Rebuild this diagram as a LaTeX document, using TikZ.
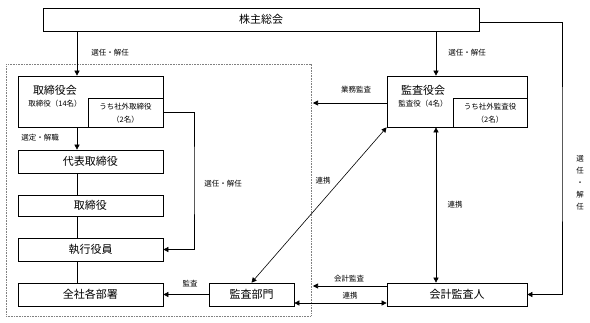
\documentclass[tikz,border=0pt]{standalone}
\usepackage{fontspec}
\setmainfont{Noto Sans CJK JP}
\usetikzlibrary{arrows.meta,calc}
\begin{document}
\begin{tikzpicture}[x=1pt,y=-1pt,
  box/.style={draw, line width=0.7pt, inner sep=0pt, font=\fontsize{11}{13}\selectfont},
  title/.style={inner sep=0pt, font=\fontsize{11}{13}\selectfont},
  sub/.style={inner sep=0pt, font=\fontsize{7.5}{9}\selectfont},
  lbl/.style={inner sep=0pt, font=\fontsize{7.5}{9}\selectfont},
  arr/.style={-{Triangle[length=5pt,width=5pt]}, line width=0.6pt},
  darr/.style={{Triangle[length=5pt,width=5pt]}-{Triangle[length=5pt,width=5pt]}, line width=0.6pt},
  ln/.style={line width=0.6pt}]
\useasboundingbox (0,0) rectangle (590,322);
% dotted area
\node[draw=gray, line width=0.6pt, dash pattern=on 0.8pt off 0.8pt, minimum width=305pt, minimum height=252pt, inner sep=0pt] (area) at (158.5,190) {};
% boxes
\node[box, minimum width=436pt, minimum height=23pt] (soukai) at (261,19.5) {株主総会};
\node[box, minimum width=145pt, minimum height=51pt] (torikai) at (90.5,101.5) {};
\node[box, minimum width=75pt, minimum height=29pt] (torishagai) at (125.5,112.5) {};
\node[title] (toritit) at (55,90) {取締役会};
\node[sub] (torisub) at (55,104) {取締役（14名）};
\node[sub] (torisha1) at (125.5,106.5) {うち社外取締役};
\node[sub] (torisha2) at (125.5,120) {（2名）};
\node[box, minimum width=145pt, minimum height=23pt] (daihyo) at (90.5,161.5) {代表取締役};
\node[box, minimum width=145pt, minimum height=21pt] (torishimari) at (90.5,205.5) {取締役};
\node[box, minimum width=145pt, minimum height=23pt] (shikko) at (90.5,249.5) {執行役員};
\node[box, minimum width=145pt, minimum height=23pt] (zensha) at (90.5,294.5) {全社各部署};
\node[box, minimum width=85pt, minimum height=23pt] (kansabumon) at (251.5,294.5) {監査部門};
\node[box, minimum width=140pt, minimum height=23pt] (kaikei) at (457,294.5) {会計監査人};
\node[box, minimum width=140pt, minimum height=51pt] (kansakai) at (457,101.5) {};
\node[box, minimum width=74pt, minimum height=29pt] (kansashagai) at (490,112.5) {};
\node[title] (kansatit) at (423,90) {監査役会};
\node[sub] (kansasub) at (423,104) {監査役（4名）};
\node[sub] (kansasha1) at (490,106.5) {うち社外監査役};
\node[sub] (kansasha2) at (490,120) {（2名）};
% helper coordinates
\coordinate (cl) at (77,0);
\coordinate (cm) at (436,0);
\coordinate (cr) at (194,180);
\coordinate (cfar) at (562,150);
\coordinate (gyomu) at (313,103);
\coordinate (kaikeiend) at (313,286);
% connectors
\draw[arr] (soukai.south -| cl) -- (torikai.north -| cl);
\draw[arr] (torikai.south -| cl) -- (daihyo.north -| cl);
\draw[ln] (daihyo.south -| cl) -- (torishimari.north -| cl);
\draw[ln] (torishimari.south -| cl) -- (shikko.north -| cl);
\draw[ln] (shikko.south -| cl) -- (zensha.north -| cl);
\draw[arr] (torishagai.east) -| (cr) |- (shikko.east);
\draw[arr] (soukai.south -| cm) -- (kansakai.north -| cm);
\draw[arr] ([yshift=-2.5pt]soukai.east) -| (cfar) |- (kaikei.east);
\draw[arr] (kansakai.west |- gyomu) -- (gyomu);
\draw[darr] (kansakai.south -| cm) -- (kaikei.north -| cm);
\draw[darr] (kansabumon.north) -- (kansakai.south west);
\draw[arr] (kansabumon.west) -- (zensha.east);
\draw[arr] (kaikei.west |- kaikeiend) -- (kaikeiend);
\draw[darr] ([yshift=-8.5pt]kansabumon.east) -- ([yshift=-8.5pt]kaikei.west);
% labels
\node[lbl] (l1) at (110,53) {選任・解任};
\node[lbl] (l2) at (467,53) {選任・解任};
\node[lbl] (l3) at (40,138) {選定・解職};
\node[lbl] (l4) at (223,184) {選任・解任};
\node[lbl] (l5) at (356,90) {業務監査};
\node[lbl] (l6) at (323,181) {連携};
\node[lbl] (l7) at (455,205) {連携};
\node[lbl] (l8) at (349,279) {会計監査};
\node[lbl] (l9) at (350,296) {連携};
\node[lbl] (l10) at (190,284) {監査};
\node[lbl, align=center, font=\fontsize{7.5}{12}\selectfont] (l11) at (580,183) {選\\任\\・\\解\\任};
\end{tikzpicture}
\end{document}
